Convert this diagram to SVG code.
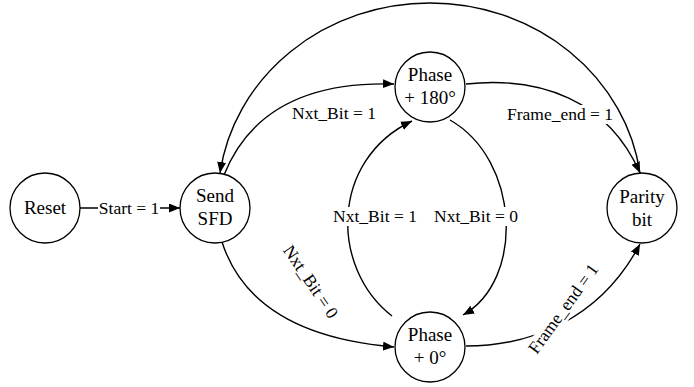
<svg xmlns="http://www.w3.org/2000/svg" width="694" height="387" viewBox="0 0 694 387">
<defs>
<marker id="arr" markerUnits="userSpaceOnUse" markerWidth="12" markerHeight="10" refX="11" refY="4.5" orient="auto">
<path d="M0,0 L11,4.5 L0,9 z" fill="#000"/>
</marker>
<style>
.node circle{fill:#fff;stroke:#000;stroke-width:1.3}
.node text{font-size:19px;text-anchor:middle;fill:#000}
.edge{fill:none;stroke:#000;stroke-width:1.4;marker-end:url(#arr)}
.lbl{font-size:17.5px;text-anchor:middle;fill:#000}
.bg{fill:#fff;stroke:none}
</style>
</defs>
<rect width="694" height="387" fill="#fff"/>
<g font-family="'Liberation Serif', 'DejaVu Serif', serif">
<g id="connectors">
<path class="edge" d="M80,208 L98,208 M160,208 L180,208"/>
<text class="lbl" x="129" y="214">Start = 1</text>
<path class="edge" d="M640,173 A212 197 0 0 0 220,173"/>
<path class="edge" d="M224,175 Q262,80 394,84"/>
<text class="lbl" x="334" y="119">Nxt_Bit = 1</text>
<path class="edge" d="M466,84 C540,76 608,100 640,173"/>
<rect class="bg" x="506" y="105" width="108" height="19"/>
<text class="lbl" x="560" y="120">Frame_end = 1</text>
<path class="edge" d="M222,242 Q252,335 394,347"/>
<text class="lbl" transform="translate(306,285) rotate(56)">Nxt_Bit = 0</text>
<path class="edge" d="M392,316 C330,268 330,160 412,121"/>
<rect class="bg" x="332" y="207" width="87" height="19"/>
<text class="lbl" x="375" y="222">Nxt_Bit = 1</text>
<path class="edge" d="M450,120 C520,160 525,280 463,315"/>
<rect class="bg" x="432" y="207" width="88" height="19"/>
<text class="lbl" x="476" y="222">Nxt_Bit = 0</text>
<path class="edge" d="M466,346 C530,346 600,320 640,244"/>
<g transform="translate(568,312) rotate(-54)">
<rect class="bg" x="-55" y="-14" width="110" height="19"/>
<text class="lbl" x="0" y="0">Frame_end = 1</text>
</g>
</g>
<g id="reset" class="node"><circle cx="45" cy="208" r="35"/><text x="45" y="214">Reset</text></g>
<g id="send-sfd" class="node"><circle cx="215" cy="208" r="35"/><text x="215" y="202">Send</text><text x="215" y="225">SFD</text></g>
<g id="phase-180" class="node"><circle cx="430" cy="87" r="35"/><text x="430" y="81">Phase</text><text x="430" y="104">+ 180°</text></g>
<g id="phase-0" class="node"><circle cx="430" cy="347" r="35"/><text x="430" y="341">Phase</text><text x="430" y="364">+ 0°</text></g>
<g id="parity-bit" class="node"><circle cx="642" cy="208" r="35"/><text x="642" y="203">Parity</text><text x="642" y="226">bit</text></g>
</g>
</svg>
